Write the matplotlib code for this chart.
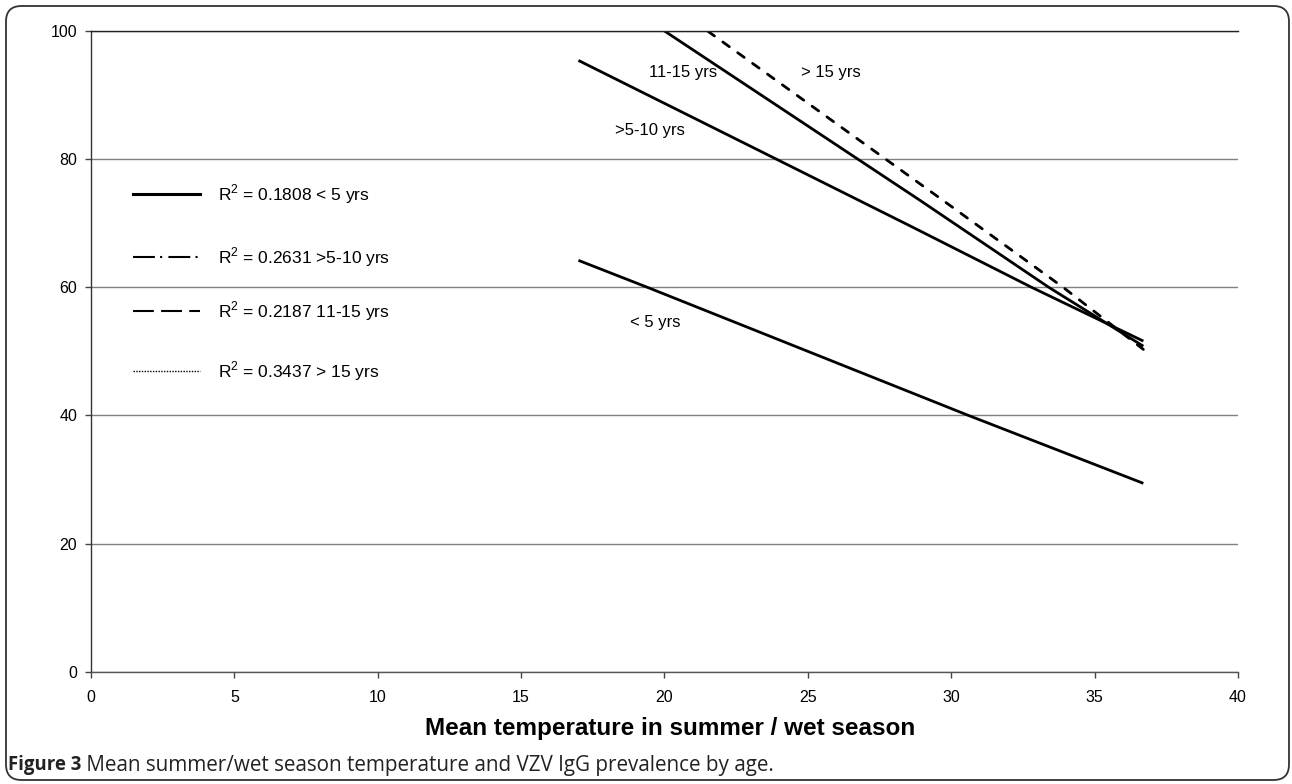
import matplotlib
matplotlib.use('Agg')
import matplotlib.pyplot as plt
from matplotlib.patches import FancyBboxPatch
from matplotlib.lines import Line2D

# trend lines (temperature, % VZV IgG positive)
temp_lt5 = [17.0, 19.4, 30.6, 36.7]
prev_lt5 = [64.2, 60.0, 40.0, 29.4]
temp_5_10 = [17.0, 23.9, 28.6, 32.8, 36.7]
prev_5_10 = [95.4, 80.0, 69.5, 60.0, 51.6]
temp_11_15 = [17.0, 20.0, 28.9, 33.4, 36.7]
prev_11_15 = [108.8, 100.0, 73.6, 60.0, 50.8]
temp_gt15 = [17.0, 21.5, 29.7, 33.9, 36.7]
prev_gt15 = [114.6, 100.0, 73.6, 60.0, 50.3]

legend_labels = [r'R$^\mathregular{2}$ = 0.1808 < 5 yrs',
                 r'R$^\mathregular{2}$ = 0.2631 >5-10 yrs',
                 r'R$^\mathregular{2}$ = 0.2187 11-15 yrs',
                 r'R$^\mathregular{2}$ = 0.3437 > 15 yrs']
line_labels = ['< 5 yrs', '>5-10 yrs', '11-15 yrs', '> 15 yrs']
x_ticks = [0, 5, 10, 15, 20, 25, 30, 35, 40]
y_ticks = [0, 20, 40, 60, 80, 100]

plt.rcParams['font.family'] = ['Liberation Sans', 'DejaVu Sans']

W, H = 1292, 784
fig = plt.figure(figsize=(W / 100, H / 100), dpi=100)
ax = fig.add_axes([0.0704, 0.1432, 0.8878, 0.8173])

ax.plot(temp_lt5, prev_lt5, color='k', lw=2.0, solid_capstyle='butt')
ax.plot(temp_5_10, prev_5_10, color='k', lw=2.0, solid_capstyle='butt')
ax.plot(temp_11_15, prev_11_15, color='k', lw=2.0, solid_capstyle='butt')
ax.plot(temp_gt15, prev_gt15, color='k', lw=2.0, dashes=(2.9, 3.7),
        dash_capstyle='round')

# in-plot labels, placed in figure pixels (from top-left)
lab_pos = [(655, 322), (650, 130), (683, 73), (831, 73)]
for (px, py), lab in zip(lab_pos, line_labels):
    fig.text(px / W, 1 - py / H, lab, fontsize=12, ha='center', va='center')

# hand drawn legend (Excel style)
leg_y = [0.7456, 0.647, 0.563, 0.469]
leg_styles = [dict(lw=2.2, ls='-'),
              dict(lw=1.5, dashes=(10.5, 2.5, 1, 3)),
              dict(lw=1.5, dashes=(10, 3.5)),
              dict(lw=1.0, dashes=(1, 1))]
for yy, lab, st in zip(leg_y, legend_labels, leg_styles):
    ax.add_line(Line2D([0.0366, 0.0951], [yy, yy], transform=ax.transAxes,
                       color='k', clip_on=False, **st))
    ax.text(0.1107, yy, lab, transform=ax.transAxes, fontsize=12.5,
            ha='left', va='center')

ax.set_xlim(0, 40)
ax.set_ylim(0, 100)
ax.set_xticks(x_ticks)
ax.set_yticks(y_ticks)
ax.yaxis.grid(True, color='#808080', lw=1.0)
ax.set_axisbelow(True)
ax.spines['right'].set_visible(False)
ax.spines['top'].set_color('#222222')
ax.spines['left'].set_color('#333333')
ax.spines['bottom'].set_color('#555555')
for s in ['top', 'left', 'bottom']:
    ax.spines[s].set_linewidth(1.0)
ax.tick_params(axis='both', direction='out', length=4, width=1,
               color='#444444', labelsize=11.5)
ax.tick_params(axis='y', pad=6)
ax.tick_params(axis='x', pad=9)
ax.set_xlabel('Mean temperature in summer / wet season', fontsize=17.5,
              fontweight='bold')
ax.xaxis.set_label_coords(0.5045, -0.070)

# caption
cap1 = fig.text(8 / W, 1 - 765 / H, 'Figure 3', fontsize=13.4,
                fontweight='bold', family=['Open Sans', 'DejaVu Sans'],
                color='#222222', va='center', ha='left')
ax.annotate(' Mean summer/wet season temperature and VZV IgG prevalence by age.',
            xy=(1, 0.5), xycoords=cap1, va='center', ha='left',
            fontsize=14.9, family=['Open Sans', 'DejaVu Sans'],
            color='#222222', annotation_clip=False)

# rounded frame around the figure panel
frame = FancyBboxPatch((6 / W, 4 / H), 1283 / W, 774 / H,
                       boxstyle='round,pad=0,rounding_size=0.012',
                       transform=fig.transFigure, fill=False,
                       ec='#333333', lw=1.3, mutation_aspect=W / H)
fig.patches.append(frame)

fig.savefig('out.png', dpi=100)
